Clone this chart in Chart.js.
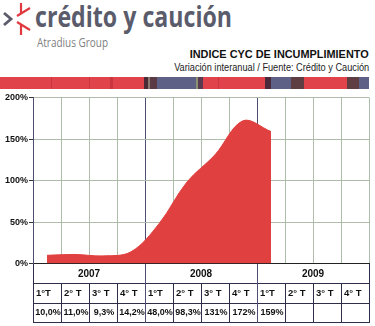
<!DOCTYPE html>
<html>
<head>
<meta charset="utf-8">
<script src="https://cdn.jsdelivr.net/npm/chart.js@4.4.1/dist/chart.umd.min.js"></script>
<style>
  body { margin: 0; background: #fff; width: 375px; height: 326px; overflow: hidden; position: relative; font-family: "Liberation Sans", Arial, sans-serif; }
  .abs { position: absolute; white-space: nowrap; }
  .fit { display: inline-block; }
  #logoText { left: 35px; top: 1px; font-family: "Open Sans"; font-weight: 700; font-size: 29px; line-height: 29px; color: #5a5b6b; transform-origin: left top; }
  #group { left: 37px; top: 37px; font-family: "Open Sans"; font-size: 12.5px; line-height: 12.5px; color: #808080; transform-origin: left top; }
  #title { right: 6px; top: 49px; font-weight: bold; font-size: 11px; line-height: 11px; color: #111; transform-origin: right top; }
  #subtitle { right: 6px; top: 62.5px; font-size: 10px; line-height: 10px; color: #222; transform-origin: right top; }
  #strip { left: 0; top: 76.5px; width: 369px; height: 12px;
    background: linear-gradient(to right,
      #e0434a 0 51px, #c9363e 51px 52px, #e0434a 52px 89px, #c9363e 89px 90px, #e0434a 90px 110px, #c9363e 110px 113px, #e0434a 113px 144px,
      #4a2a35 144px 148px, #8a7a70 148px 150px, #5a3a44 150px 157px,
      #5e6185 157px 196px, #8a9070 196px 198px, #5a3a50 198px 203px,
      #e0434a 203px 218px, #c9363e 218px 219px, #e0434a 219px 265px,
      #4a2a3a 265px 271px, #5e6185 271px 291px, #5e3e42 291px 304px,
      #e0434a 304px 347px, #5e3e42 347px 359px, #5e6185 359px 369px); }
  #plot { position: absolute; left: 0; top: 90px; }
  .line { position: absolute; }
  .cell { position: absolute; font-weight: bold; color: #111; white-space: nowrap; }
</style>
</head>
<body>
<svg class="abs" style="left:0;top:0" width="35" height="40" viewBox="0 0 35 40">
  <polyline points="4,13 11,19 4,25" fill="none" stroke="#5a5b6b" stroke-width="2.8"/>
  <g stroke="#e03a40" stroke-width="2.2" fill="none">
    <line x1="21" y1="3" x2="21" y2="13"/>
    <line x1="17" y1="16" x2="30" y2="8"/>
    <line x1="17" y1="22" x2="30" y2="30"/>
    <line x1="21" y1="25" x2="21" y2="35"/>
  </g>
</svg>
<span id="logoText" class="abs fit" data-w="197">crédito y caución</span>
<span id="group" class="abs fit" data-w="71">Atradius Group</span>
<span id="title" class="abs fit" data-w="179">INDICE CYC DE INCUMPLIMIENTO</span>
<span id="subtitle" class="abs fit" data-w="195">Variación interanual / Fuente: Crédito y Caución</span>
<div id="strip" class="abs"></div>
<canvas id="plot" width="375" height="180"></canvas>
<div id="table"></div>
<script>
// Índice CyC de incumplimiento, variación interanual por trimestre
const years = ['2007', '2008', '2009'];
const quarters = ['1°T', '2° T', '3° T', '4° T'];
const values = [10.0, 11.0, 9.3, 14.2, 48.0, 98.3, 131, 172, 159];
const yTicks = [0, 50, 100, 150, 200];

// squeeze header texts to their width
document.querySelectorAll('[data-w]').forEach(function (el) {
  const w = el.getBoundingClientRect().width;
  el.style.transform = 'scaleX(' + (el.dataset.w / w) + ')';
});

function fmt(v) {
  return (v >= 100 ? v.toFixed(0) : v.toFixed(1).replace('.', ',')) + '%';
}

const nQ = years.length * quarters.length;
const points = values.map(function (v, i) { return { x: i + 0.5, y: v }; });

const ctx = document.getElementById('plot').getContext('2d');
const chart = new Chart(ctx, {
  type: 'line',
  data: {
    datasets: [{
      data: points,
      borderColor: '#e0403f',
      backgroundColor: '#e0403f',
      borderWidth: 1,
      fill: 'origin',
      tension: 0.35,
      pointRadius: 0
    }]
  },
  options: {
    responsive: false,
    animation: false,
    devicePixelRatio: 1,
    layout: { padding: { top: 7.5, right: 6, bottom: 6, left: 0 } },
    plugins: { legend: { display: false }, tooltip: { enabled: false } },
    scales: {
      x: {
        type: 'linear', min: 0, max: nQ,
        ticks: { display: false, stepSize: 1 },
        grid: {
          drawTicks: false,
          color: function (c) {
            const v = c.tick ? c.tick.value : -1;
            return (v === 4 || v === 8) ? '#4e4e70' : '#aebcaa';
          }
        },
        border: { color: '#222', width: 1 },
        afterFit: function (s) { s.height = 0; }
      },
      y: {
        min: yTicks[0], max: yTicks[yTicks.length - 1],
        afterBuildTicks: function (s) { s.ticks = yTicks.map(function (v) { return { value: v }; }); },
        ticks: {
          callback: function (v) { return v + '%'; },
          font: { family: 'Liberation Sans', weight: 'bold', size: 9 },
          color: '#111',
          padding: 1
        },
        grid: { color: '#aebcaa', tickColor: '#333', tickLength: 4 },
        border: { color: '#4e4e70', width: 1 },
        afterFit: function (s) { s.width = 33; }
      }
    }
  }
});

// table under the axis: años, trimestres, valores
const tbl = document.getElementById('table');
const xs = chart.scales.x;
const top0 = 90 + chart.chartArea.bottom;
const rowH = [19.5, 19.5, 19];
const rowY = [top0, top0 + rowH[0], top0 + rowH[0] + rowH[1], top0 + rowH[0] + rowH[1] + rowH[2]];
function px(i) { return Math.round(xs.getPixelForValue(i)); }
function addLine(x, y, w, h, color) {
  const d = document.createElement('div');
  d.className = 'line';
  d.style.cssText = 'left:' + x + 'px;top:' + y + 'px;width:' + w + 'px;height:' + h + 'px;background:' + color;
  tbl.appendChild(d);
}
function addCell(text, x, y, w, h, size, align, pad) {
  const d = document.createElement('div');
  d.className = 'cell';
  d.textContent = text;
  d.style.cssText = 'left:' + x + 'px;top:' + y + 'px;width:' + (w - pad) + 'px;height:' + h + 'px;line-height:' + h + 'px;font-size:' + size + 'px;text-align:' + align + ';padding-left:' + pad + 'px';
  tbl.appendChild(d);
}
const left = px(0), right = px(nQ);
for (let r = 1; r < 4; r++) addLine(left, Math.round(rowY[r]), right - left + 1, 1, '#2e2e4a');
for (let i = 0; i <= nQ; i++) {
  const major = i % 4 === 0;
  const y0 = major ? top0 : Math.round(rowY[1]);
  addLine(px(i), y0, 1, Math.round(rowY[3]) - y0 + 1, (i === 4 || i === 8) ? '#4e4e70' : '#2e2e4a');
}
years.forEach(function (y, k) {
  addCell(y, px(k * 4), rowY[0], px(k * 4 + 4) - px(k * 4), rowH[0], 10, 'center', 0);
  quarters.forEach(function (q, j) {
    const i = k * 4 + j;
    const w = px(i + 1) - px(i);
    addCell(q, px(i) + 1, rowY[1], w, rowH[1], 9.5, 'left', 2);
    if (i < values.length) addCell(fmt(values[i]), px(i) + 1, rowY[2], w, rowH[2], 9, 'center', 0);
  });
});
</script>
</body>
</html>
